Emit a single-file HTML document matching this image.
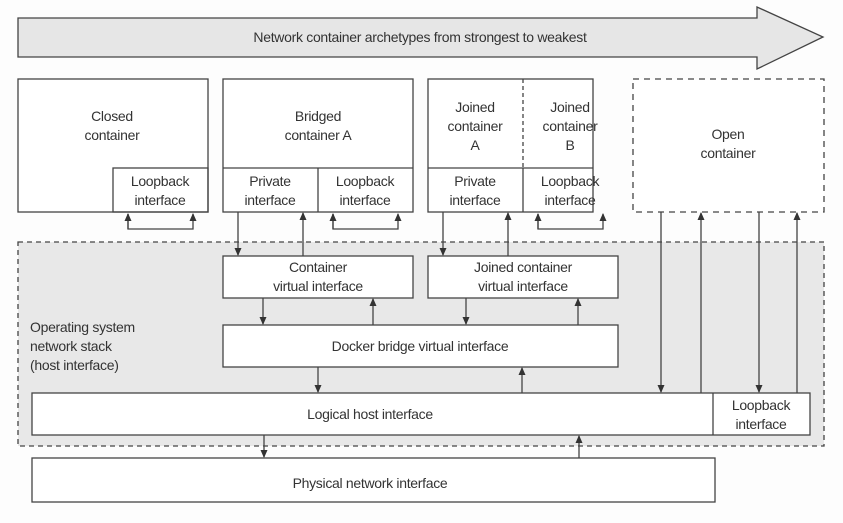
<!DOCTYPE html>
<html><head><meta charset="utf-8"><style>
body{margin:0;background:#fdfdfd;}
svg text{font-family:"Liberation Sans",sans-serif;font-size:14px;fill:#333;text-anchor:middle;letter-spacing:-0.3px;}
</style></head><body>
<svg width="843" height="518" viewBox="0 0 843 518" xmlns="http://www.w3.org/2000/svg">
<defs>
<marker id="a" markerWidth="8" markerHeight="10" refX="7" refY="5" orient="auto" markerUnits="userSpaceOnUse">
<path d="M0,1.5 L8,5 L0,8.5 z" fill="#333"/></marker>
</defs>
<g stroke="#444" stroke-width="1.3" fill="none">
<polygon points="18,18 757,18 757,7 823,37 757,69 757,57 18,57" fill="#e6e6e6"/>
<rect x="18" y="242" width="806" height="204" fill="#e8e8e8" stroke-dasharray="5,4"/>
<rect x="18" y="79" width="190" height="133" fill="#fff"/>
<rect x="113" y="168" width="95" height="44"/>
<rect x="223" y="79" width="190" height="133" fill="#fff"/>
<line x1="223" y1="168" x2="413" y2="168"/><line x1="318" y1="168" x2="318" y2="212"/>
<rect x="428" y="79" width="165" height="133" fill="#fff"/>
<line x1="428" y1="168" x2="593" y2="168"/><line x1="523" y1="168" x2="523" y2="212"/>
<line x1="523" y1="79" x2="523" y2="168" stroke-dasharray="4,3"/>
<rect x="633" y="79" width="191" height="133" fill="#fff" stroke-dasharray="6,5"/>
<rect x="223" y="256" width="190" height="42" fill="#fff"/>
<rect x="428" y="256" width="190" height="42" fill="#fff"/>
<rect x="223" y="325" width="395" height="42" fill="#fff"/>
<rect x="32" y="393" width="778" height="42" fill="#fff"/>
<line x1="713" y1="393" x2="713" y2="435"/>
<rect x="32" y="458" width="683" height="44" fill="#fff"/>
<path d="M128,214 V229 H193 V214" marker-end="url(#a)"/><line x1="128" y1="229" x2="128" y2="214" marker-end="url(#a)"/>
<path d="M333,214 V229 H398 V214" marker-end="url(#a)"/><line x1="333" y1="229" x2="333" y2="214" marker-end="url(#a)"/>
<path d="M538,214 V229 H603 V214" marker-end="url(#a)"/><line x1="538" y1="229" x2="538" y2="214" marker-end="url(#a)"/>
<line x1="238" y1="212" x2="238" y2="255" marker-end="url(#a)"/>
<line x1="303" y1="256" x2="303" y2="213" marker-end="url(#a)"/>
<line x1="443" y1="212" x2="443" y2="255" marker-end="url(#a)"/>
<line x1="508" y1="256" x2="508" y2="213" marker-end="url(#a)"/>
<line x1="263" y1="298" x2="263" y2="324" marker-end="url(#a)"/>
<line x1="373" y1="325" x2="373" y2="299" marker-end="url(#a)"/>
<line x1="466" y1="298" x2="466" y2="324" marker-end="url(#a)"/>
<line x1="578" y1="325" x2="578" y2="299" marker-end="url(#a)"/>
<line x1="318" y1="367" x2="318" y2="392" marker-end="url(#a)"/>
<line x1="522" y1="393" x2="522" y2="368" marker-end="url(#a)"/>
<line x1="661" y1="212" x2="661" y2="392" marker-end="url(#a)"/>
<line x1="701" y1="393" x2="701" y2="213" marker-end="url(#a)"/>
<line x1="759" y1="212" x2="759" y2="392" marker-end="url(#a)"/>
<line x1="797" y1="393" x2="797" y2="213" marker-end="url(#a)"/>
<line x1="264" y1="435" x2="264" y2="457" marker-end="url(#a)"/>
<line x1="579" y1="458" x2="579" y2="436" marker-end="url(#a)"/>
</g>
<text x="420" y="42">Network container archetypes from strongest to weakest</text>
<text x="112" y="121">Closed</text><text x="112" y="140">container</text>
<text x="160" y="186">Loopback</text><text x="160" y="205">interface</text>
<text x="318" y="121">Bridged</text><text x="318" y="140">container A</text>
<text x="270" y="186">Private</text><text x="270" y="205">interface</text>
<text x="365" y="186">Loopback</text><text x="365" y="205">interface</text>
<text x="475" y="112">Joined</text><text x="475" y="131">container</text><text x="475" y="150">A</text>
<text x="570" y="112">Joined</text><text x="570" y="131">container</text><text x="570" y="150">B</text>
<text x="475" y="186">Private</text><text x="475" y="205">interface</text>
<text x="570" y="186">Loopback</text><text x="570" y="205">interface</text>
<text x="728" y="139">Open</text><text x="728" y="158">container</text>
<text x="318" y="272">Container</text><text x="318" y="291">virtual interface</text>
<text x="523" y="272">Joined container</text><text x="523" y="291">virtual interface</text>
<text x="420" y="351">Docker bridge virtual interface</text>
<text x="370" y="419">Logical host interface</text>
<text x="761" y="410">Loopback</text><text x="761" y="429">interface</text>
<text x="370" y="488">Physical network interface</text>
<text x="30" y="332" style="text-anchor:start">Operating system</text>
<text x="30" y="351" style="text-anchor:start">network stack</text>
<text x="30" y="370" style="text-anchor:start">(host interface)</text>
</svg>
</body></html>
